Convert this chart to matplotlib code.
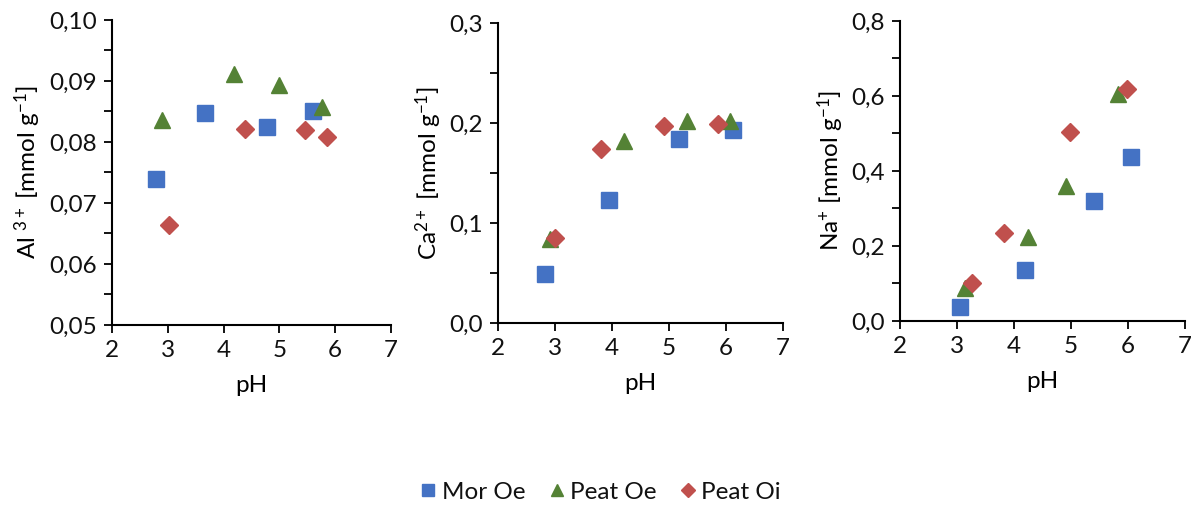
import matplotlib
matplotlib.use('Agg')
import matplotlib.pyplot as plt
from matplotlib.ticker import MultipleLocator, FuncFormatter

plt.rcParams['font.family'] = ['Lato', 'DejaVu Sans']
plt.rcParams['mathtext.fontset'] = 'custom'
plt.rcParams['mathtext.rm'] = 'Lato'
plt.rcParams['mathtext.it'] = 'Lato:italic'
plt.rcParams['font.size'] = 17.5
plt.rcParams['text.color'] = '#111111'

series = ['Mor Oe', 'Peat Oe', 'Peat Oi']
colors = ['#4472C4', '#548235', '#C0504D']
markers = ['s', '^', 'D']
msizes = [12, 12, 9]

# Al3+
al_ph = [[2.78, 3.66, 4.78, 5.60],
         [2.90, 4.19, 4.99, 5.76],
         [3.03, 4.39, 5.45, 5.85]]
al_val = [[0.0740, 0.0847, 0.0825, 0.0850],
          [0.0836, 0.0912, 0.0894, 0.0858],
          [0.0664, 0.0821, 0.0819, 0.0808]]

# Ca2+
ca_ph = [[2.83, 3.95, 5.17, 6.13],
         [2.92, 4.21, 5.32, 6.07],
         [3.00, 3.80, 4.91, 5.86]]
ca_val = [[0.049, 0.1227, 0.1843, 0.1933],
          [0.084, 0.1817, 0.2017, 0.2023],
          [0.085, 0.1743, 0.1973, 0.1990]]

# Na+
na_ph = [[3.05, 4.19, 5.40, 6.05],
         [3.14, 4.25, 4.91, 5.82],
         [3.27, 3.82, 4.98, 5.98]]
na_val = [[0.036, 0.135, 0.320, 0.437],
          [0.088, 0.224, 0.360, 0.604],
          [0.102, 0.2356, 0.505, 0.618]]

panels = [
    (al_ph, al_val, r'Al $^{3+}$ [mmol g$^{-1}$]', (0.05, 0.10), 0.01, 0.005, 2,
     [0.0932, 0.359, 0.2321, 0.6016]),
    (ca_ph, ca_val, r'Ca$^{2+}$ [mmol g$^{-1}$]', (0.0, 0.3), 0.1, 0.05, 1,
     [0.4143, 0.3629, 0.2371, 0.5917]),
    (na_ph, na_val, r'Na$^{+}$ [mmol g$^{-1}$]', (0.0, 0.8), 0.2, 0.1, 1,
     [0.7488, 0.3669, 0.2371, 0.5917]),
]

fig = plt.figure(figsize=(12.02, 5.07), dpi=100)

handles = []
for ph, val, ylab, ylim, major, minor, dec, pos in panels:
    ax = fig.add_axes(pos)
    hs = []
    for i in range(3):
        h, = ax.plot(ph[i], val[i], linestyle='none', marker=markers[i],
                     markersize=msizes[i], color=colors[i], label=series[i])
        hs.append(h)
    handles = hs
    ax.set_xlim(2, 7)
    ax.set_ylim(*ylim)
    ax.xaxis.set_major_locator(MultipleLocator(1))
    ax.yaxis.set_major_locator(MultipleLocator(major))
    ax.yaxis.set_minor_locator(MultipleLocator(minor))
    ax.yaxis.set_major_formatter(FuncFormatter(
        lambda v, p, d=dec: ('%.*f' % (d, v)).replace('.', ',')))
    for s in ['top', 'right']:
        ax.spines[s].set_visible(False)
    for s in ['left', 'bottom']:
        ax.spines[s].set_linewidth(1.5)
        ax.spines[s].set_color('#000000')
    ax.tick_params(which='major', direction='out', length=6, width=1.3, pad=5,
                   labelcolor='#111111')
    ax.tick_params(which='minor', direction='out', length=6, width=1.3)
    ax.set_xlabel('pH', labelpad=10)
    ax.set_ylabel(ylab, labelpad=4)
    ax.patch.set_alpha(0)

fig.legend(handles=handles, loc='center', bbox_to_anchor=(0.5, 1 - 492 / 507),
           ncol=3, frameon=False, handletextpad=0.25, columnspacing=1.0,
           handlelength=0.6, markerscale=0.75)

fig.savefig('out.png', dpi=100)
